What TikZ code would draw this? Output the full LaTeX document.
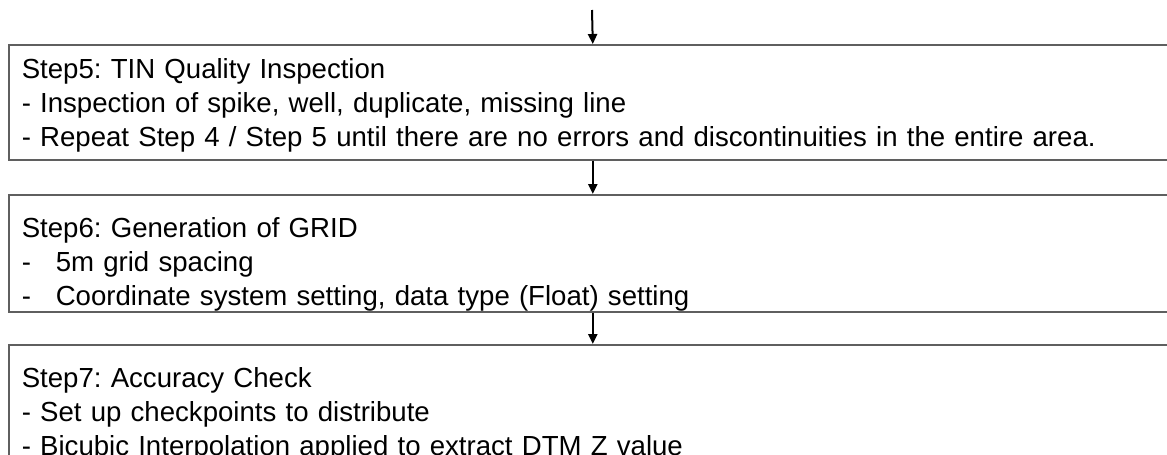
\documentclass[tikz,border=0pt]{standalone}
\usepackage{fontspec}
\setmainfont{Liberation Sans}
\usepackage{tikz}
\usetikzlibrary{positioning,calc}
\usetikzlibrary{arrows.meta}
\definecolor{BoxGray}{RGB}{95,95,95}
\tikzset{
	stepbox/.style={draw=BoxGray,line width=0.8pt,anchor=north west,inner xsep=6.5pt,inner ysep=0pt,
		minimum width=584pt,text width=571pt,minimum height=57.5pt,align=left,
		text height=13.5pt,text depth=37pt,
		font=\fontsize{13.8pt}{17pt}\selectfont\frenchspacing},
	lowtext/.style={text height=21.5pt},
	flow/.style={draw=black,line width=1pt,-{Triangle[length=5pt,width=4.6pt]}},
}
\newcommand{\dashitem}{\makebox[17pt][l]{-}}
\begin{document}
\begin{tikzpicture}[x=0.5pt,y=-0.5pt]
			\useasboundingbox (0,0) rectangle (1167,455);
			\clip (0,0) rectangle (1167,455);
			\coordinate (in) at (592,10);
			\node[stepbox] (s5) at (8,44) {Step5: TIN Quality Inspection\\
				- Inspection of spike, well, duplicate, missing line\\
				- Repeat Step 4 / Step 5 until there are no errors and discontinuities in the entire area.};
			\node[stepbox,lowtext] (s6) at (8,194) {Step6: Generation of GRID\\
				\dashitem 5m grid spacing\\
				\dashitem Coordinate system setting, data type (Float) setting};
			\node[stepbox,lowtext] (s7) at (8,344) {Step7: Accuracy Check\\
				- Set up checkpoints to distribute\\
				- Bicubic Interpolation applied to extract DTM Z value};
			\draw[flow] (in) -- (s5.north);
			\draw[flow] (s5.south) -- (s6.north);
			\draw[flow] (s6.south) -- (s7.north);
		\end{tikzpicture}
\end{document}
